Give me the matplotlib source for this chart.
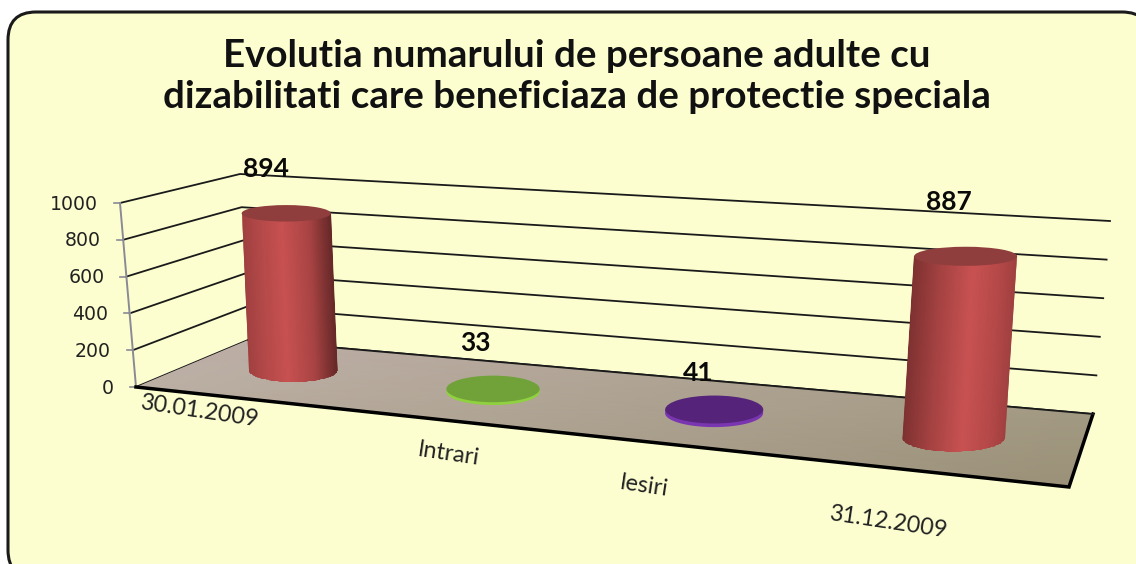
import numpy as np
import matplotlib
matplotlib.use("Agg")
import matplotlib.pyplot as plt
from matplotlib.colors import LinearSegmentedColormap
from matplotlib.patches import Ellipse, FancyBboxPatch, Polygon

# data
title = "Evolutia numarului de persoane adulte cu\ndizabilitati care beneficiaza de protectie speciala"
categories = ["30.01.2009", "Intrari", "Iesiri", "31.12.2009"]
values = [894, 33, 41, 887]
yticks = [0, 200, 400, 600, 800, 1000]

# layout, in picture pixels
floor_fl, floor_bl = (136, 387), (248, 340)
floor_br, floor_fr = (1093, 414), (1069, 487)
rise_fl, rise_bl = (-16, -184), (-8, -166)
rise_br, rise_fr = (17, -193), (17, -222)
slots = [0.135, 0.398, 0.648, 0.886]
depths = [0.53, 0.49, 0.49, 0.47]
# drawn height against the wall scale: the reference's bars fall a little short of it
height_scale = [0.98, 0.45, 0.45, 1.0]
value_off = [(-20, -44), (-18, -46), (-16, -37), (-17, -54)]
cat_xy = [(200, 411), (449, 454), (644, 486), (889, 522)]

H = np.linalg.solve(
    np.array([[0, 0, 1, 0, 0, 0, 0, 0],
              [0, 0, 0, 0, 0, 1, 0, 0],
              [1, 0, 1, 0, 0, 0, -floor_fr[0], 0],
              [0, 0, 0, 1, 0, 1, -floor_fr[1], 0],
              [1, 1, 1, 0, 0, 0, -floor_br[0], -floor_br[0]],
              [0, 0, 0, 1, 1, 1, -floor_br[1], -floor_br[1]],
              [0, 1, 1, 0, 0, 0, 0, -floor_bl[0]],
              [0, 0, 0, 0, 1, 1, 0, -floor_bl[1]]], float),
    np.array([floor_fl[0], floor_fl[1], floor_fr[0], floor_fr[1],
              floor_br[0], floor_br[1], floor_bl[0], floor_bl[1]], float))


def project(u, d, val=0):
    # u along the categories, d into the depth, val up the value axis
    w = H[6] * u + H[7] * d + 1
    x = (H[0] * u + H[1] * d + H[2]) / w
    y = (H[3] * u + H[4] * d + H[5]) / w
    rx = (1 - u) * (1 - d) * rise_fl[0] + u * (1 - d) * rise_fr[0] + u * d * rise_br[0] + (1 - u) * d * rise_bl[0]
    ry = (1 - u) * (1 - d) * rise_fl[1] + u * (1 - d) * rise_fr[1] + u * d * rise_br[1] + (1 - u) * d * rise_bl[1]
    return x + rx * val / 1000, y + ry * val / 1000


fig = plt.figure(figsize=(11.36, 5.64), dpi=100)
ax = fig.add_axes([0, 0, 1, 1])
ax.set_xlim(0, 1136)
ax.set_ylim(564, 0)
ax.axis("off")

ax.add_patch(FancyBboxPatch((8, 12), 1142, 566, boxstyle="round,pad=0,rounding_size=28",
                            fc="#fcfed0", ec="#1a1a1a", lw=2.2, zorder=1))

ax.text(577, 76.5, title, ha="center", va="center", fontsize=27.7, fontweight="bold",
        family="Lato", color="#111111", linespacing=1.22, zorder=2)

# walls
for t in yticks:
    p0 = project(0, 0, t)
    p1 = project(0, 1, t)
    p2 = project(1, 1, t)
    ax.plot([p0[0], p1[0], p2[0]], [p0[1], p1[1], p2[1]], color="#1a1a1a", lw=1.3, zorder=3)
    ax.plot([p0[0] - 6, p0[0]], [p0[1], p0[1]], color="#8a8a94", lw=1.2, zorder=3)
    ax.text(p0[0] - 22, p0[1] + 1, str(t), ha="right", va="center", fontsize=13.6,
            color="#222222", zorder=6)
p0, p1 = project(0, 0, 0), project(0, 0, 1000)
ax.plot([p0[0], p1[0]], [p0[1], p1[1]], color="#8a8a94", lw=1.4, zorder=3)

# floor
us, ds = np.meshgrid(np.linspace(0, 1, 2), np.linspace(0, 1, 2))
fx, fy = project(us, ds)
floor_cmap = LinearSegmentedColormap.from_list("floor", ["#bdaea6", "#b8b0a0", "#b4ad9b", "#9b9178"])
mesh = ax.pcolormesh(fx, fy, us * 0.9 + (1 - ds) * 0.1, cmap=floor_cmap, shading="gouraud", zorder=3)
mesh.set_clip_path(Polygon([floor_fl, floor_fr, floor_br, floor_bl], transform=ax.transData))
ax.plot(*zip(floor_fl, floor_fr, floor_br), color="#000000", lw=2.5, zorder=4, solid_joinstyle="miter")
ax.plot(*zip(floor_bl, floor_br), color="#1a1a1a", lw=1.3, zorder=4)

red_cmap = LinearSegmentedColormap.from_list(
    "red", [(0, "#a04040"), (0.15, "#b04747"), (0.45, "#c85151"), (0.75, "#a94444"), (1, "#662828")])
red_cmap2 = LinearSegmentedColormap.from_list(
    "red2", [(0, "#7f3131"), (0.25, "#a34141"), (0.58, "#c95252"), (0.85, "#b44848"), (1, "#a04040")])
styles = [(red_cmap, "#8f3d3d"), ("#8fd13f", "#71a23a"), ("#7a35b0", "#55247a"), (red_cmap2, "#8f3d3d")]

for i, (val, u, d) in enumerate(zip(values, slots, depths)):
    bx, by = project(u, d)
    tx, ty = project(u, d, val * height_scale[i])
    rx = 44.5 + (bx - 285) / 668 * 7
    ry_b, ry_t = rx * 0.27, rx * 0.185
    side, top = styles[i]
    if val < 100:
        ry_t = ry_b = rx * 0.285
    ang = np.linspace(np.pi, 0, 60)
    # the visible side: down the left edge, round the front of the base, up the right edge
    arc_x = bx + rx * np.cos(ang)
    arc_y = by + ry_b * np.sin(ang)
    outline = np.column_stack([np.r_[tx - rx, arc_x, tx + rx], np.r_[ty, arc_y, ty]])
    if isinstance(side, str):
        ax.add_patch(Polygon(outline, fc=side, ec="none", zorder=5))
    else:
        t = np.linspace(0, 1, 40)
        gx = np.vstack([tx - rx + 2 * rx * t, bx - rx + 2 * rx * t])
        gy = np.vstack([np.full(40, ty), np.full(40, by + ry_b + 2)])
        gc = np.vstack([t, t])
        m = ax.pcolormesh(gx, gy, gc, cmap=side, shading="gouraud", zorder=5)
        m.set_clip_path(Polygon(outline, transform=ax.transData))
    ax.add_patch(Ellipse((tx, ty), 2 * rx, 2 * ry_t, fc=top, ec="none", zorder=6))
    ox, oy = value_off[i]
    ax.text(tx + ox, ty + oy, str(val), ha="center", va="center", fontsize=19,
            fontweight="bold", family="Lato", color="#0a0a0a", zorder=7)

for name, (x, y) in zip(categories, cat_xy):
    ax.text(x, y, name, ha="center", va="center", rotation=-8.5, rotation_mode="anchor",
            fontsize=16.8, family="Lato", color="#222222", zorder=6)

fig.savefig("out.png", dpi=100, facecolor="white")
